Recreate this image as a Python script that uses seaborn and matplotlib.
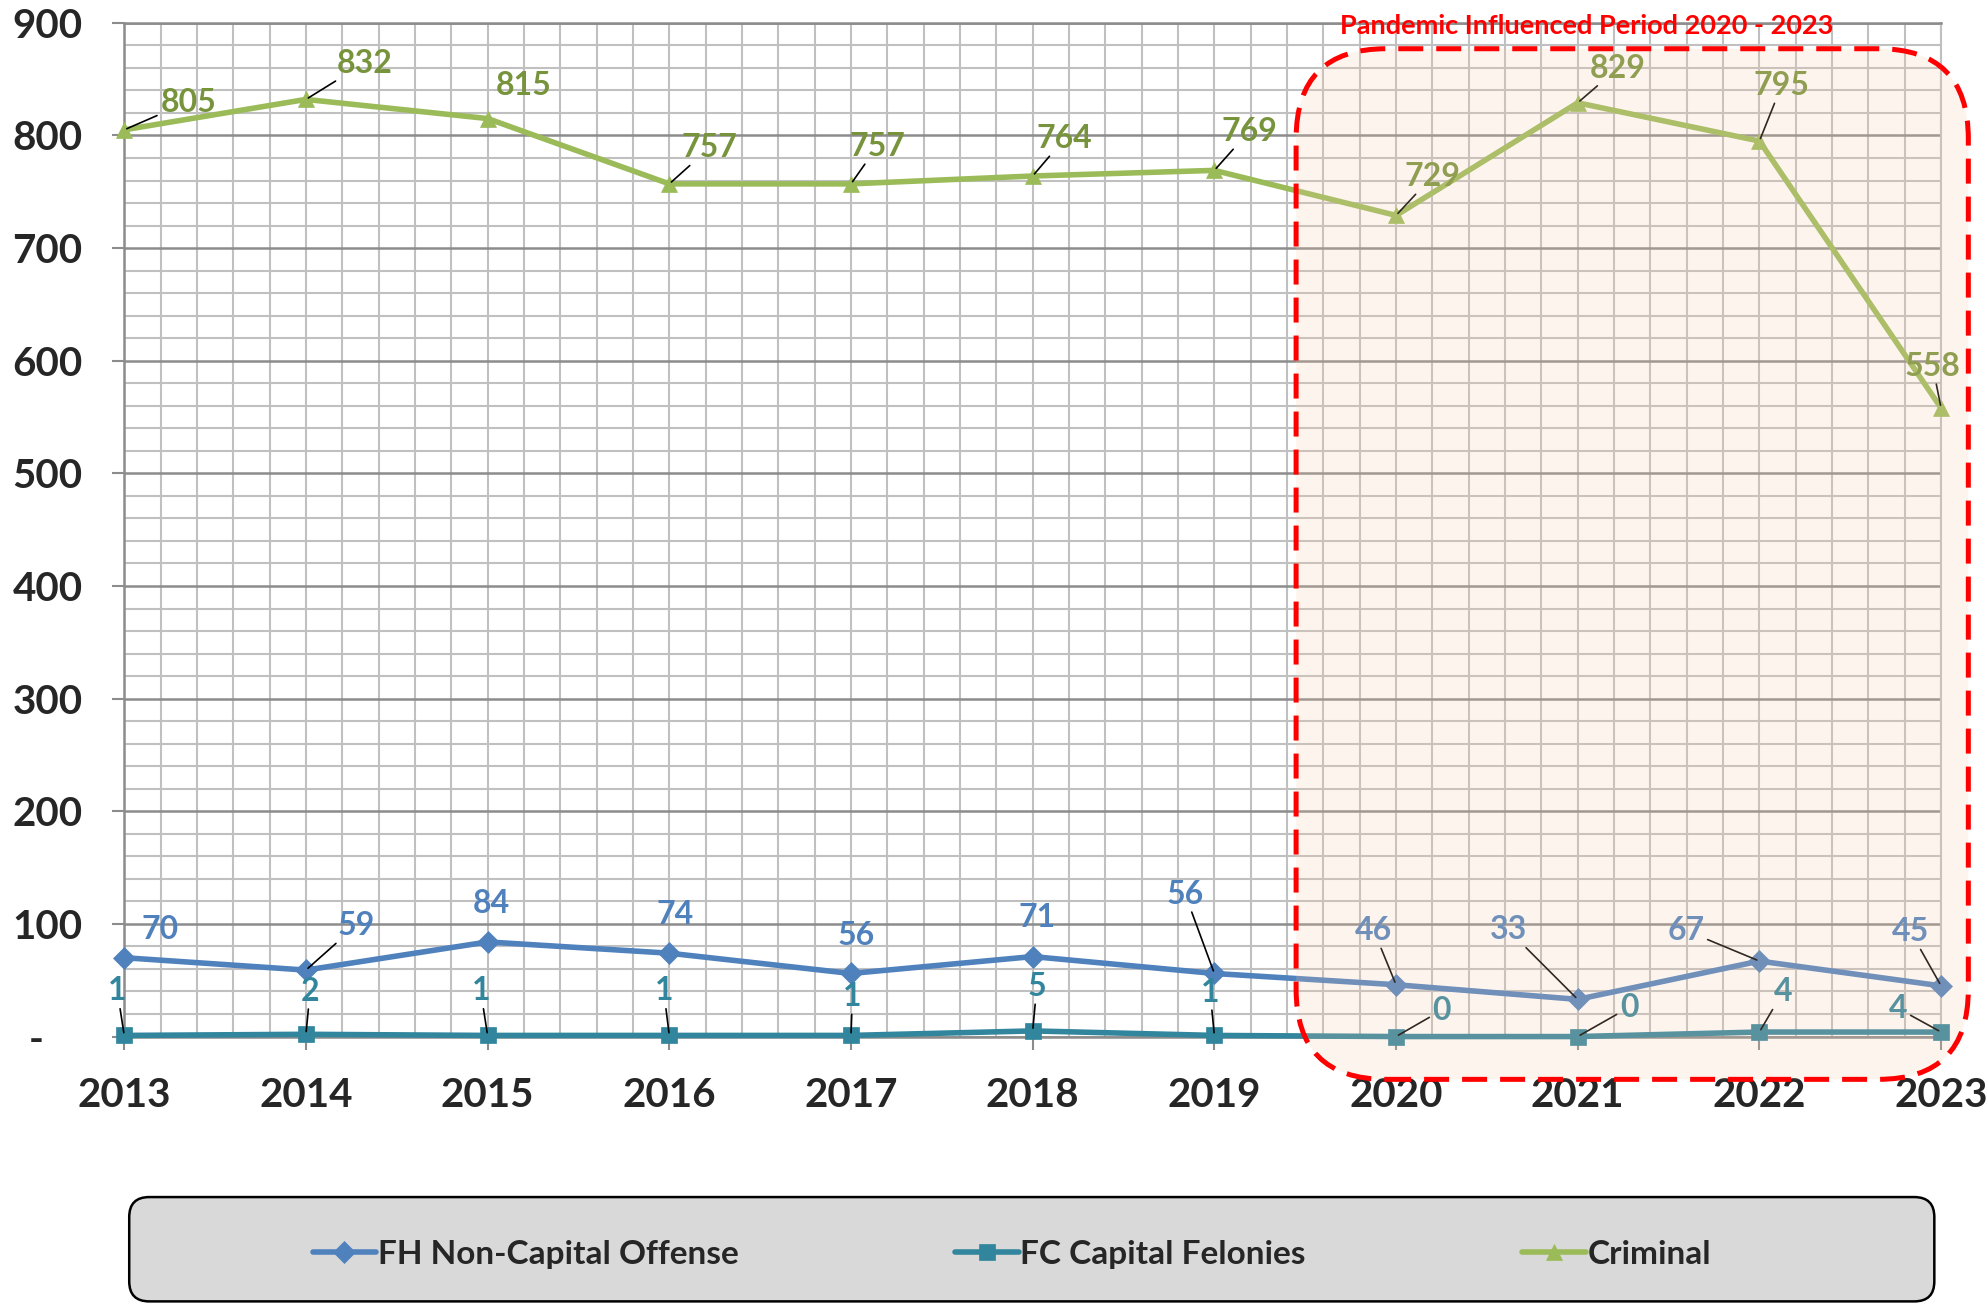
import matplotlib
matplotlib.use("Agg")
import numpy as np
import pandas as pd
import matplotlib.pyplot as plt
import seaborn as sns
from matplotlib.patches import FancyBboxPatch
from matplotlib.transforms import IdentityTransform
from matplotlib.ticker import MultipleLocator, FixedLocator

# data
years = [2013, 2014, 2015, 2016, 2017, 2018, 2019, 2020, 2021, 2022, 2023]
fh_values = [70, 59, 84, 74, 56, 71, 56, 46, 33, 67, 45]
fc_values = [1, 2, 1, 1, 1, 5, 1, 0, 0, 4, 4]
criminal_values = [805, 832, 815, 757, 757, 764, 769, 729, 829, 795, 558]
series_names = ["FH Non-Capital Offense", "FC Capital Felonies", "Criminal"]
y_ticks = [0, 100, 200, 300, 400, 500, 600, 700, 800, 900]
y_tick_labels = ["-    ", "100", "200", "300", "400", "500", "600", "700", "800", "900"]
period_title = "Pandemic Influenced Period 2020 - 2023"

# label offsets in points (dx, dy) and whether a leader line is drawn
fh_offsets = [(26, 20), (36, 32), (3, 28), (4, 28), (4, 27), (3, 28), (-21, 57),
              (-16, 39), (-50, 50), (-53, 22), (-22, 39)]
fh_leaders = [0, 1, 0, 0, 0, 0, 1, 1, 1, 1, 1]
fc_offsets = [(-5, 32), (3, 31), (-5, 32), (-4, 32), (1, 28), (3, 32), (-3, 31),
              (33, 19), (37, 21), (17, 29), (-31, 17)]
fc_leaders = [1, 1, 1, 1, 1, 1, 1, 1, 1, 1, 1]
cr_offsets = [(46, 20), (42, 26), (26, 24), (29, 26), (19, 27), (23, 27), (25, 28),
              (26, 28), (29, 25), (16, 40), (-6, 30)]
cr_leaders = [1, 1, 0, 1, 1, 1, 1, 1, 1, 1, 1]

line_colors = ["#4f81bd", "#31859c", "#9bbb59"]
label_colors = ["#4f81bd", "#31859c", "#77933c"]
markers = ["D", "s", "^"]
marker_sizes = [13, 14, 15]

df = pd.DataFrame({
    "year": years * 3,
    "count": fh_values + fc_values + criminal_values,
    "series": [n for n in series_names for _ in years],
})

sns.set_style("white")
plt.rcParams["font.family"] = ["Lato", "DejaVu Sans"]

W, H = 1988, 1304
fig = plt.figure(figsize=(W / 100, H / 100), dpi=100)
ax = fig.add_axes([0.0625, 0.2051, 0.9139, 0.7774])

for i, name in enumerate(series_names):
    sub = df[df["series"] == name]
    sns.lineplot(data=sub, x="year", y="count", ax=ax, color=line_colors[i],
                 marker=markers[i], label=name, clip_on=False, zorder=3)

# seaborn keeps its own marker defaults, so set the sizes on the lines
for line, ms, c in zip(ax.lines, marker_sizes, line_colors):
    line.set_markersize(ms)
    line.set_linewidth(3.8)
    line.set_markeredgecolor(c)
    line.set_markeredgewidth(0.5)

ax.set_xlim(2013, 2023)
ax.set_ylim(0, 900)
ax.xaxis.set_major_locator(FixedLocator(years))
ax.xaxis.set_minor_locator(MultipleLocator(0.2))
ax.yaxis.set_major_locator(FixedLocator(y_ticks))
ax.yaxis.set_minor_locator(MultipleLocator(20))
ax.set_xticklabels([str(y) for y in years], fontsize=29, fontweight="bold")
ax.set_yticklabels(y_tick_labels, fontsize=29, fontweight="bold")
ax.set_xlabel("")
ax.set_ylabel("")

ax.grid(which="minor", color="#c0c0c0", linewidth=1.5)
ax.grid(which="major", axis="x", color="#c0c0c0", linewidth=1.5)
ax.grid(which="major", axis="y", color="#8c8c8c", linewidth=1.8)
ax.set_axisbelow(True)
ax.tick_params(axis="both", which="major", direction="out", length=9, width=1.5,
               color="#8c8c8c", left=True, bottom=True)
ax.tick_params(axis="x", pad=20)
ax.tick_params(axis="y", pad=21)
ax.tick_params(which="minor", length=0)
for side in ["left", "bottom", "top"]:
    ax.spines[side].set_color("#8c8c8c")
    ax.spines[side].set_linewidth(1.8)
ax.spines["right"].set_color("#c0c0c0")
ax.spines["right"].set_linewidth(1.5)

# data labels with leader lines
all_vals = [fh_values, fc_values, criminal_values]
all_offsets = [fh_offsets, fc_offsets, cr_offsets]
all_leaders = [fh_leaders, fc_leaders, cr_leaders]
for i in range(3):
    for x, v, off, lead in zip(years, all_vals[i], all_offsets[i], all_leaders[i]):
        props = None
        if lead:
            props = dict(arrowstyle="-", color="black", lw=1.2, shrinkA=0, shrinkB=2)
        ax.annotate(str(v), xy=(x, v), xytext=off, textcoords="offset points",
                    ha="center", va="center", fontsize=23, fontweight="bold",
                    color=label_colors[i], arrowprops=props, zorder=4,
                    annotation_clip=False)

# pandemic period box, drawn over the lines with a light fill
fig.canvas.draw()
x0, y0 = ax.transData.transform((2019.45, -38))
x1, y1 = ax.transData.transform((2023.15, 877))
pandemic = FancyBboxPatch((x0, y0), x1 - x0, y1 - y0,
                          boxstyle="round,pad=0,rounding_size=90",
                          transform=IdentityTransform(),
                          facecolor=(0.973, 0.796, 0.678, 0.2),
                          edgecolor="#ff0000", linewidth=3.6,
                          linestyle=(0, (5, 2.6)), zorder=5, clip_on=False)
ax.add_patch(pandemic)
ax.text(2021.05, 897, period_title, ha="center", va="center", fontsize=19.5,
        fontweight="bold", color="#ff0000", zorder=6)

# legend in a wide grey rounded box
handles, labels = ax.get_legend_handles_labels()
ax.get_legend().remove()
lx0, ly0 = fig.transFigure.transform((0.065, 0.002))
lx1, ly1 = fig.transFigure.transform((0.973, 0.082))
legend_box = FancyBboxPatch((lx0, ly0), lx1 - lx0, ly1 - ly0,
                            boxstyle="round,pad=0,rounding_size=20",
                            transform=IdentityTransform(),
                            facecolor="#d9d9d9", edgecolor="black", linewidth=1.8)
fig.add_artist(legend_box)
for h, c in zip(handles, line_colors):
    h.set_markersize(11)
    h.set_linewidth(4)
    h.set_markeredgecolor(c)
fig.legend(handles, labels, loc="center", bbox_to_anchor=(0.509, 0.038),
           ncol=3, frameon=False, prop={"weight": "bold", "size": 24},
           handlelength=1.9, handletextpad=0.05, columnspacing=6.5)

fig.savefig("out.png", dpi=100)
